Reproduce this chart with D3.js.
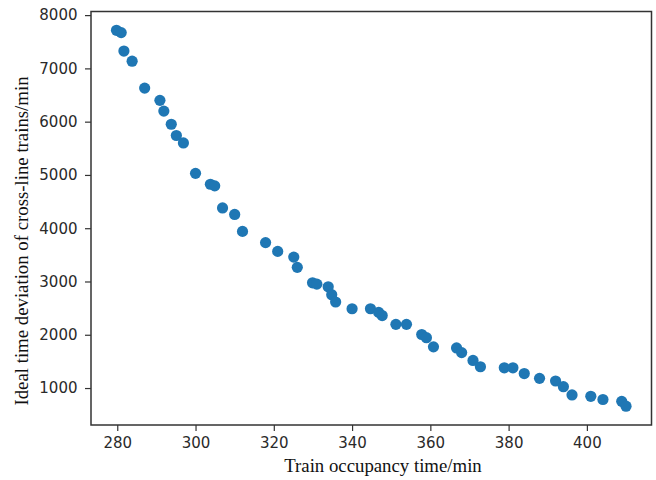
<!DOCTYPE html>
<html>
<head>
<meta charset="utf-8">
<script src="https://cdn.jsdelivr.net/npm/d3@7"></script>
<style>
  html, body { margin: 0; padding: 0; background: #fff; }
  svg { display: block; }
</style>
</head>
<body>
<svg id="chart" width="656" height="480"></svg>
<script>
const occupancyTime = [279.8, 281.0, 281.7, 283.8, 287.0, 290.9, 291.9, 293.8, 295.1, 296.9,
  300.0, 303.8, 304.9, 306.9, 310.0, 312.0, 317.9, 321.0, 325.1, 326.0,
  329.9, 331.0, 333.9, 334.8, 335.8, 340.0, 344.7, 346.8, 347.7, 351.2,
  353.9, 357.8, 359.0, 360.8, 366.7, 368.0, 370.9, 372.8, 378.9, 381.1,
  384.0, 387.9, 392.0, 394.0, 396.2, 401.0, 404.1, 408.9, 410.0];
const deviation = [7715, 7672, 7325, 7135, 6630, 6400, 6198, 5951, 5740, 5600,
  5030, 4825, 4795, 4380, 4258, 3940, 3730, 3565, 3458, 3265,
  2975, 2950, 2900, 2752, 2615, 2488, 2488, 2420, 2360, 2195,
  2195, 2005, 1945, 1773, 1752, 1665, 1518, 1400, 1380, 1380,
  1272, 1182, 1132, 1025, 870, 845, 785, 750, 659];
const xTicks = [280, 300, 320, 340, 360, 380, 400];
const yTicks = [1000, 2000, 3000, 4000, 5000, 6000, 7000, 8000];
const xLabel = "Train occupancy time/min";
const yLabel = "Ideal time deviation of cross-line trains/min";

const svg = d3.select("#chart");
const mLeft = 91, mRight = 651.5, mTop = 11.5, mBottom = 425;

// matplotlib-like 5% margins
const xExt = d3.extent(occupancyTime), yExt = d3.extent(deviation);
const xPad = (xExt[1] - xExt[0]) * 0.05, yPad = (yExt[1] - yExt[0]) * 0.05;
const x = d3.scaleLinear().domain([xExt[0] - xPad, xExt[1] + xPad]).range([mLeft, mRight]);
const y = d3.scaleLinear().domain([yExt[0] - yPad, yExt[1] + yPad]).range([mBottom, mTop]);

const data = occupancyTime.map((v, i) => ({x: v, y: deviation[i]}));

// points
svg.append("g").selectAll("circle").data(data).join("circle")
  .attr("cx", d => x(d.x)).attr("cy", d => y(d.y))
  .attr("r", 5.6).attr("fill", "#1f77b4");

// axes
const tickColor = "#333";
const xAxis = svg.append("g").attr("transform", `translate(0,${mBottom})`)
  .call(d3.axisBottom(x).tickValues(xTicks).tickFormat(d3.format("d")).tickSizeOuter(0).tickSize(6).tickPadding(6.5));
const yAxis = svg.append("g").attr("transform", `translate(${mLeft},0)`)
  .call(d3.axisLeft(y).tickValues(yTicks).tickFormat(d3.format("d")).tickSizeOuter(0).tickSize(6).tickPadding(7.5));
[xAxis, yAxis].forEach(a => {
  a.select(".domain").remove();
  a.selectAll(".tick line").attr("stroke", tickColor).attr("stroke-width", 1.2);
  a.selectAll(".tick text").attr("fill", "#2a2a2a")
    .attr("font-family", "'DejaVu Sans', sans-serif").attr("font-size", 15);
});

// frame
svg.append("rect").attr("x", mLeft).attr("y", mTop)
  .attr("width", mRight - mLeft).attr("height", mBottom - mTop)
  .attr("fill", "none").attr("stroke", "#333").attr("stroke-width", 1.5);

// labels
svg.append("text").attr("x", 383).attr("y", 472)
  .attr("text-anchor", "middle").attr("font-family", "'Liberation Serif', 'Times New Roman', serif")
  .attr("font-size", 18.8).attr("fill", "#111").text(xLabel);
svg.append("text").attr("transform", `translate(28,241) rotate(-90)`)
  .attr("text-anchor", "middle").attr("font-family", "'Liberation Serif', 'Times New Roman', serif")
  .attr("font-size", 18.8).attr("fill", "#111").text(yLabel);
</script>
</body>
</html>
